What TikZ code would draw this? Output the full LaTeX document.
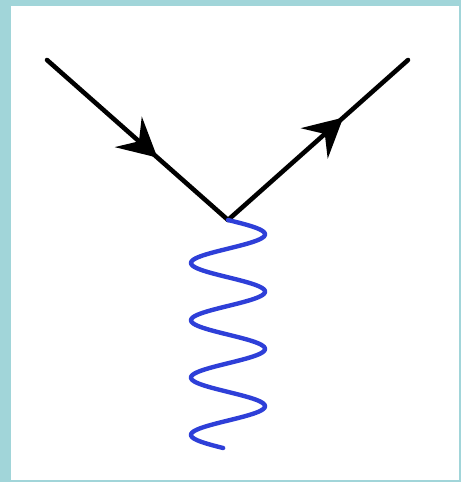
\documentclass[tikz,border=0pt]{standalone}
\usetikzlibrary{arrows.meta,decorations.markings}

\definecolor{frame}{HTML}{A1D5D9}
\definecolor{photon}{HTML}{2E3FD8}

\tikzset{
  fermion/.style={black, line width=2.6pt, line cap=round, postaction={decorate},
    decoration={markings, mark=at position #1 with {\arrow{Stealth[length=22pt,width=23pt,inset=8pt]}}}},
  boson/.style={photon, line width=2.5pt, line cap=round, line join=round}
}

\begin{document}
\begin{tikzpicture}[x=0.02cm,y=-0.02cm]
\useasboundingbox (0,0) rectangle (461,482);
\fill[frame] (0,0) rectangle (461,482);
\fill[white] (11,6) rectangle (459,480);
\coordinate (ein) at (47,60);
\coordinate (vtx) at (228,220);
\coordinate (eout) at (408,60);
\draw[fermion=0.61] (ein) -- (vtx);
\draw[fermion=0.64] (vtx) -- (eout);
\draw[boson] (vtx) plot[domain=0:228, samples=240, smooth] ({228+37*sin(\x/57.3*360)}, {220+\x});
\end{tikzpicture}
\end{document}
